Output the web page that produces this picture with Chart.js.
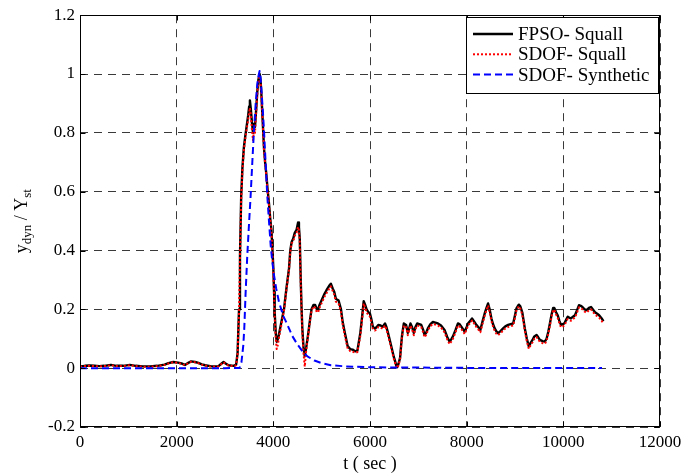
<!DOCTYPE html>
<html>
<head>
<meta charset="utf-8">
<script src="https://cdn.jsdelivr.net/npm/chart.js@4.4.1/dist/chart.umd.min.js"></script>
<style>
  html, body { margin: 0; padding: 0; background: #fff; }
  #wrap { width: 700px; height: 474px; }
</style>
</head>
<body>
<div id="wrap"><canvas id="squallChart" width="700" height="474"></canvas></div>
<script>
// series names (legend)
const seriesNames = ['FPSO- Squall', 'SDOF- Squall', 'SDOF- Synthetic'];

// axis ticks
const xTicks = [0, 2000, 4000, 6000, 8000, 10000, 12000];
const yTicks = [-0.2, 0, 0.2, 0.4, 0.6, 0.8, 1, 1.2];

// time (sec) for the squall records
const tSquall = [
  0, 100, 200, 300, 400, 500, 640, 750, 900, 1030, 1150, 1300, 1450, 1600, 1750, 1830, 1930, 2030, 2100, 2170,
  2240, 2300, 2380, 2450, 2520, 2590, 2720, 2865, 2930, 2970, 3020, 3073, 3176, 3230, 3260, 3290, 3310, 3335, 3360, 3390,
  3420, 3446, 3480, 3500, 3515, 3535, 3555, 3580, 3600, 3620, 3645, 3668, 3690, 3716, 3735, 3750, 3780, 3806, 3830, 3855,
  3880, 3910, 3935, 3960, 3980, 4000, 4015, 4028, 4050, 4070, 4095, 4117, 4170, 4220, 4270, 4325, 4350, 4380, 4410, 4443,
  4480, 4512, 4530, 4547, 4567, 4585, 4600, 4625, 4650, 4680, 4720, 4755, 4790, 4830, 4865, 4900, 4927, 4955, 4983, 5050,
  5100, 5155, 5190, 5230, 5260, 5294, 5350, 5400, 5432, 5480, 5537, 5590, 5640, 5700, 5740, 5800, 5840, 5870, 5900, 5930,
  5970, 6000, 6030, 6060, 6103, 6140, 6172, 6220, 6263, 6311, 6340, 6367, 6410, 6450, 6490, 6519, 6545, 6560, 6590, 6622,
  6645, 6664, 6700, 6747, 6782, 6810, 6837, 6870, 6907, 6940, 6976, 7020, 7060, 7100, 7128, 7160, 7197, 7250, 7301, 7350,
  7405, 7470, 7542, 7600, 7646, 7680, 7716, 7770, 7820, 7850, 7889, 7958, 8000, 8028, 8070, 8111, 8150, 8200, 8240, 8283,
  8330, 8373, 8410, 8443, 8475, 8512, 8545, 8580, 8615, 8650, 8700, 8754, 8800, 8858, 8910, 8962, 9000, 9030, 9078, 9110,
  9150, 9180, 9203, 9245, 9286, 9320, 9363, 9400, 9446, 9480, 9515, 9570, 9618, 9653, 9689, 9720, 9760, 9790, 9813, 9850,
  9882, 9920, 9951, 9990, 10021, 10060, 10090, 10120, 10158, 10200, 10241, 10290, 10324, 10360, 10395, 10440, 10484, 10530, 10573, 10620,
  10656, 10700, 10740, 10790, 10830
];

// FPSO response under the squall
const fpsoSquall = [
  0.006, 0.008, 0.009, 0.008, 0.007, 0.008, 0.011, 0.008, 0.008, 0.011, 0.008, 0.006, 0.006, 0.008, 0.012, 0.017, 0.021, 0.019, 0.016, 0.011,
  0.018, 0.023, 0.021, 0.018, 0.013, 0.010, 0.006, 0.007, 0.016, 0.021, 0.015, 0.010, 0.008, 0.012, 0.050, 0.200, 0.380, 0.585, 0.680, 0.750,
  0.790, 0.820, 0.860, 0.890, 0.910, 0.880, 0.840, 0.800, 0.830, 0.820, 0.880, 0.940, 0.980, 1.000, 0.980, 0.940, 0.840, 0.750, 0.700, 0.660,
  0.610, 0.560, 0.510, 0.470, 0.410, 0.340, 0.260, 0.190, 0.120, 0.090, 0.100, 0.115, 0.160, 0.200, 0.270, 0.340, 0.400, 0.430, 0.440, 0.460,
  0.470, 0.495, 0.480, 0.440, 0.300, 0.200, 0.135, 0.070, 0.040, 0.070, 0.115, 0.160, 0.200, 0.215, 0.215, 0.200, 0.200, 0.215, 0.225, 0.250,
  0.265, 0.280, 0.287, 0.270, 0.260, 0.236, 0.230, 0.200, 0.160, 0.120, 0.075, 0.065, 0.063, 0.057, 0.060, 0.120, 0.180, 0.228, 0.215, 0.200,
  0.190, 0.185, 0.165, 0.140, 0.135, 0.140, 0.147, 0.145, 0.141, 0.152, 0.140, 0.124, 0.095, 0.068, 0.040, 0.024, 0.008, 0.003, 0.015, 0.035,
  0.080, 0.113, 0.152, 0.147, 0.120, 0.135, 0.152, 0.140, 0.120, 0.140, 0.152, 0.150, 0.147, 0.130, 0.113, 0.120, 0.135, 0.150, 0.157, 0.155,
  0.152, 0.145, 0.130, 0.105, 0.090, 0.098, 0.108, 0.130, 0.152, 0.150, 0.141, 0.124, 0.140, 0.152, 0.160, 0.169, 0.160, 0.147, 0.140, 0.130,
  0.160, 0.186, 0.205, 0.220, 0.200, 0.169, 0.150, 0.135, 0.125, 0.119, 0.126, 0.135, 0.142, 0.147, 0.150, 0.152, 0.180, 0.203, 0.216, 0.210,
  0.190, 0.160, 0.135, 0.100, 0.074, 0.085, 0.096, 0.108, 0.113, 0.105, 0.096, 0.092, 0.090, 0.100, 0.124, 0.150, 0.185, 0.205, 0.205, 0.190,
  0.180, 0.160, 0.147, 0.150, 0.152, 0.165, 0.175, 0.172, 0.169, 0.175, 0.180, 0.200, 0.214, 0.212, 0.208, 0.200, 0.197, 0.205, 0.208, 0.198,
  0.190, 0.185, 0.180, 0.170, 0.160
];

// SDOF model under the squall
const sdofSquall = [
  0.005, 0.007, 0.008, 0.007, 0.006, 0.007, 0.010, 0.007, 0.007, 0.010, 0.007, 0.005, 0.005, 0.007, 0.011, 0.016, 0.020, 0.018, 0.015, 0.010,
  0.017, 0.022, 0.020, 0.017, 0.012, 0.009, 0.005, 0.006, 0.015, 0.020, 0.014, 0.009, 0.007, 0.010, 0.045, 0.190, 0.370, 0.575, 0.670, 0.740,
  0.780, 0.810, 0.845, 0.870, 0.885, 0.860, 0.815, 0.775, 0.810, 0.800, 0.870, 0.930, 0.975, 0.995, 0.975, 0.935, 0.835, 0.745, 0.695, 0.655,
  0.605, 0.555, 0.505, 0.465, 0.400, 0.330, 0.250, 0.175, 0.100, 0.065, 0.080, 0.105, 0.150, 0.195, 0.265, 0.335, 0.395, 0.425, 0.430, 0.450,
  0.460, 0.480, 0.470, 0.430, 0.290, 0.190, 0.120, 0.050, 0.005, 0.060, 0.110, 0.155, 0.195, 0.210, 0.205, 0.190, 0.190, 0.205, 0.215, 0.240,
  0.255, 0.270, 0.278, 0.262, 0.250, 0.226, 0.220, 0.190, 0.150, 0.110, 0.068, 0.058, 0.056, 0.052, 0.055, 0.110, 0.170, 0.220, 0.205, 0.190,
  0.180, 0.175, 0.155, 0.132, 0.128, 0.132, 0.140, 0.138, 0.134, 0.145, 0.132, 0.116, 0.088, 0.060, 0.033, 0.018, 0.003, 0.000, 0.010, 0.030,
  0.075, 0.108, 0.145, 0.140, 0.112, 0.128, 0.145, 0.132, 0.112, 0.132, 0.145, 0.143, 0.140, 0.122, 0.105, 0.113, 0.128, 0.143, 0.150, 0.148,
  0.145, 0.138, 0.122, 0.097, 0.082, 0.090, 0.100, 0.122, 0.145, 0.143, 0.134, 0.116, 0.132, 0.145, 0.153, 0.162, 0.153, 0.140, 0.132, 0.122,
  0.152, 0.178, 0.198, 0.213, 0.192, 0.160, 0.142, 0.127, 0.117, 0.112, 0.119, 0.128, 0.135, 0.140, 0.143, 0.145, 0.172, 0.196, 0.210, 0.203,
  0.182, 0.152, 0.126, 0.091, 0.066, 0.077, 0.088, 0.100, 0.106, 0.098, 0.089, 0.085, 0.083, 0.093, 0.116, 0.142, 0.178, 0.198, 0.198, 0.183,
  0.172, 0.152, 0.139, 0.142, 0.145, 0.158, 0.167, 0.164, 0.161, 0.167, 0.172, 0.192, 0.207, 0.205, 0.200, 0.192, 0.189, 0.197, 0.200, 0.190,
  0.182, 0.177, 0.172, 0.162, 0.150
];

// synthetic squall on the SDOF model
const tSynthetic = [
  0, 1000, 2000, 3000, 3300, 3340, 3380, 3400, 3425, 3460, 3500, 3530, 3565, 3600, 3635, 3668, 3695, 3716, 3735, 3760,
  3785, 3806, 3840, 3875, 3910, 3945, 3980, 4014, 4060, 4117, 4200, 4290, 4390, 4497, 4600, 4705, 4850, 4983, 5190, 5500,
  6000, 7000, 8000, 9000, 10000, 10800
];
const sdofSynthetic = [
  0, 0, 0, 0, 0.001, 0.02, 0.08, 0.14, 0.25, 0.38, 0.50, 0.585, 0.70, 0.81, 0.90, 0.965, 0.995, 1.01, 0.99, 0.93,
  0.87, 0.81, 0.70, 0.585, 0.50, 0.417, 0.36, 0.316, 0.27, 0.225, 0.18, 0.148, 0.11, 0.081, 0.058, 0.04, 0.026, 0.018, 0.01, 0.006,
  0.003, 0.002, 0.001, 0.001, 0.001, 0.001
];

const serif = "'Liberation Serif', 'Times New Roman', serif";
Chart.defaults.font.family = serif;
Chart.defaults.font.size = 17;
Chart.defaults.color = '#000';

function toPoints(xs, ys) {
  return xs.map((t, i) => ({ x: t, y: ys[i] }));
}

const lineStyles = [
  { color: '#000000', width: 2.4, dash: [] },
  { color: '#ff0000', width: 2, dash: [2, 2] },
  { color: '#0000ff', width: 2, dash: [7, 4] }
];

// box, inward ticks, legend and axis titles (MATLAB look)
const matlabFrame = {
  id: 'matlabFrame',
  afterDatasetsDraw(chart) {
    const { ctx, chartArea: a, scales } = chart;
    const L = Math.round(a.left) + 0.5, R = Math.round(a.right) - 0.5;
    const T = Math.round(a.top) + 0.5, B = Math.round(a.bottom) - 0.5;
    ctx.save();
    ctx.setLineDash([]);
    ctx.strokeStyle = '#000';
    ctx.lineWidth = 1;
    ctx.strokeRect(L, T, R - L, B - T);
    ctx.beginPath();
    xTicks.forEach(v => {
      const px = Math.round(scales.x.getPixelForValue(v)) + 0.5;
      ctx.moveTo(px, B); ctx.lineTo(px, B - 5);
      ctx.moveTo(px, T); ctx.lineTo(px, T + 5);
    });
    yTicks.forEach(v => {
      const py = Math.round(scales.y.getPixelForValue(v)) + 0.5;
      ctx.moveTo(L, py); ctx.lineTo(L + 5, py);
      ctx.moveTo(R, py); ctx.lineTo(R - 5, py);
    });
    ctx.stroke();
    ctx.restore();
  },
  afterDraw(chart) {
    const { ctx, chartArea: a } = chart;
    ctx.save();

    // legend
    const bx = 466.5, by = 17.5, bw = 192, bh = 76;
    ctx.fillStyle = '#fff';
    ctx.fillRect(bx, by, bw, bh);
    ctx.strokeStyle = '#000';
    ctx.lineWidth = 1;
    ctx.setLineDash([]);
    ctx.strokeRect(bx, by, bw, bh);
    ctx.font = '19px ' + serif;
    ctx.fillStyle = '#000';
    ctx.textBaseline = 'middle';
    ctx.textAlign = 'left';
    seriesNames.forEach((name, i) => {
      const yy = 34 + i * 20.3;
      const s = lineStyles[i];
      ctx.save();
      ctx.strokeStyle = s.color;
      ctx.lineWidth = s.width;
      ctx.setLineDash(s.dash);
      ctx.beginPath();
      ctx.moveTo(473, yy);
      ctx.lineTo(513, yy);
      ctx.stroke();
      ctx.restore();
      ctx.fillText(name, 518, yy + 1);
    });

    // x title
    ctx.font = '18px ' + serif;
    ctx.textAlign = 'center';
    ctx.textBaseline = 'alphabetic';
    ctx.fillText('t ( sec )', (a.left + a.right) / 2, 469);

    // y title with subscripts
    const parts = [
      { s: 'y', f: 18, d: 0 }, { s: 'dyn', f: 13, d: 4 },
      { s: ' / Y', f: 18, d: 0 }, { s: 'st', f: 13, d: 4 }
    ];
    let total = 0;
    parts.forEach(p => { ctx.font = p.f + 'px ' + serif; p.w = ctx.measureText(p.s).width; total += p.w; });
    ctx.translate(27, (a.top + a.bottom) / 2);
    ctx.rotate(-Math.PI / 2);
    ctx.textAlign = 'left';
    let cx = -total / 2;
    parts.forEach(p => {
      ctx.font = p.f + 'px ' + serif;
      ctx.fillText(p.s, cx, p.d);
      cx += p.w;
    });
    ctx.restore();
  }
};

const ctx = document.getElementById('squallChart').getContext('2d');
new Chart(ctx, {
  type: 'line',
  data: {
    datasets: [
      {
        label: seriesNames[0],
        data: toPoints(tSquall, fpsoSquall),
        borderColor: lineStyles[0].color,
        borderWidth: lineStyles[0].width,
        order: 2
      },
      {
        label: seriesNames[1],
        data: toPoints(tSquall, sdofSquall),
        borderColor: lineStyles[1].color,
        borderWidth: lineStyles[1].width,
        borderDash: lineStyles[1].dash,
        order: 1
      },
      {
        label: seriesNames[2],
        data: toPoints(tSynthetic, sdofSynthetic),
        borderColor: lineStyles[2].color,
        borderWidth: lineStyles[2].width,
        borderDash: lineStyles[2].dash,
        order: 0
      }
    ]
  },
  options: {
    responsive: false,
    animation: false,
    events: [],
    layout: { padding: { left: 0, right: 40, top: 11, bottom: 0 } },
    elements: {
      point: { radius: 0 },
      line: { tension: 0, fill: false, borderJoinStyle: 'round' }
    },
    plugins: {
      legend: { display: false },
      tooltip: { enabled: false }
    },
    scales: {
      x: {
        type: 'linear',
        min: 0,
        max: 12000,
        afterBuildTicks: s => { s.ticks = xTicks.map(v => ({ value: v })); },
        afterFit: s => { s.height = 47; },
        ticks: {
          padding: 5,
          maxRotation: 0,
          autoSkip: false,
          callback: v => String(v)
        },
        grid: { color: '#3a3a3a', lineWidth: 1, drawTicks: false },
        border: { display: false, dash: [8, 6] }
      },
      y: {
        type: 'linear',
        min: -0.2,
        max: 1.2,
        afterBuildTicks: s => { s.ticks = yTicks.map(v => ({ value: v })); },
        afterFit: s => { s.width = 80; },
        ticks: {
          padding: 5,
          callback: v => String(+v.toFixed(1))
        },
        grid: { color: '#3a3a3a', lineWidth: 1, drawTicks: false },
        border: { display: false, dash: [8, 6] }
      }
    }
  },
  plugins: [matlabFrame]
});
</script>
</body>
</html>
